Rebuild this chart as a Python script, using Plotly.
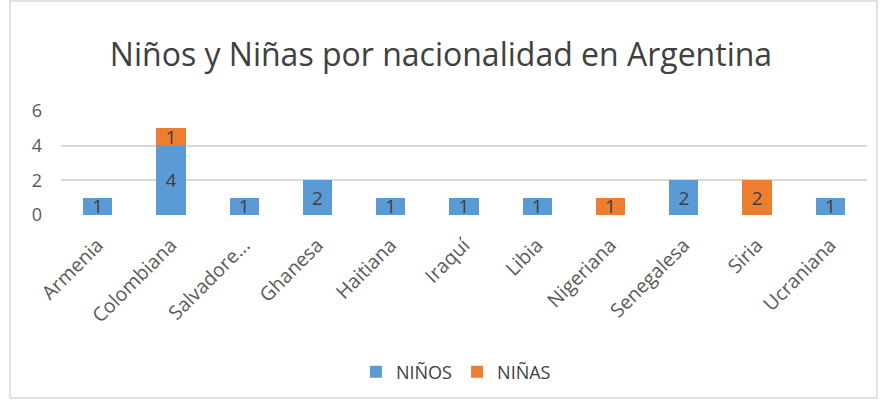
import plotly.graph_objects as go

categorias = ["Armenia", "Colombiana", "Salvadore...", "Ghanesa", "Haitiana", "Iraquí",
              "Libia", "Nigeriana", "Senegalesa", "Siria", "Ucraniana"]
ninos = [1, 4, 1, 2, 1, 1, 1, None, 2, None, 1]
ninas = [None, 1, None, None, None, None, None, 1, None, 2, None]

W, H = 882, 400
ml, mr, mt, mb = 61, 15, 111, 185
pw, ph = W - ml - mr, H - mt - mb

def px(x):
    return (x - ml) / pw

def py(y):
    return (H - mb - y) / ph

fig = go.Figure()
for name, vals, color in [("NIÑOS", ninos, "#5B9BD5"), ("NIÑAS", ninas, "#ED7D31")]:
    fig.add_trace(go.Bar(
        x=categorias, y=vals, name=name, marker_color=color,
        marker_line_width=0,
        text=[str(v) if v else "" for v in vals],
        textposition="inside", insidetextanchor="middle", textangle=0,
        textfont=dict(size=19, color="#404040"),
        cliponaxis=False,
    ))

fig.update_layout(
    width=W, height=H,
    barmode="stack", bargap=0.6,
    paper_bgcolor="white", plot_bgcolor="white",
    margin=dict(l=ml, r=mr, t=mt, b=mb, autoexpand=False),
    font=dict(family="Open Sans, Noto Sans, sans-serif", color="#595959"),
    title=dict(text="Niños y Niñas por nacionalidad en Argentina",
               x=0.5, xref="container", xanchor="center",
               y=1 - 55 / H, yanchor="middle", yref="container",
               font=dict(size=32, color="#404040")),
    uniformtext=dict(minsize=19, mode="show"),
    legend=dict(orientation="h", x=0.49, xanchor="center",
                y=py(372), yanchor="middle",
                font=dict(size=18, color="#404040"),
                traceorder="normal", itemwidth=30),
    showlegend=True,
)
fig.update_yaxes(range=[0, 6], dtick=2, showgrid=True, gridcolor="#d9d9d9",
                 gridwidth=1.5, zeroline=False, showline=False, automargin=False,
                 tickfont=dict(size=18, color="#595959"), ticks="", ticklen=0,
                 ticklabelstandoff=18)
fig.update_xaxes(tickangle=-45, showline=False, showgrid=False, automargin=False,
                 tickfont=dict(size=19.5, color="#595959"), ticks="",
                 ticklabelstandoff=14)
fig.add_shape(type="rect", xref="paper", yref="paper",
              x0=px(10), x1=px(877), y0=py(398), y1=py(1),
              line=dict(color="#d9d9d9", width=1.5), fillcolor="rgba(0,0,0,0)",
              layer="below")
fig.write_html("out.html", config={"displayModeBar": False},
               post_script="document.body.style.margin='0';")
